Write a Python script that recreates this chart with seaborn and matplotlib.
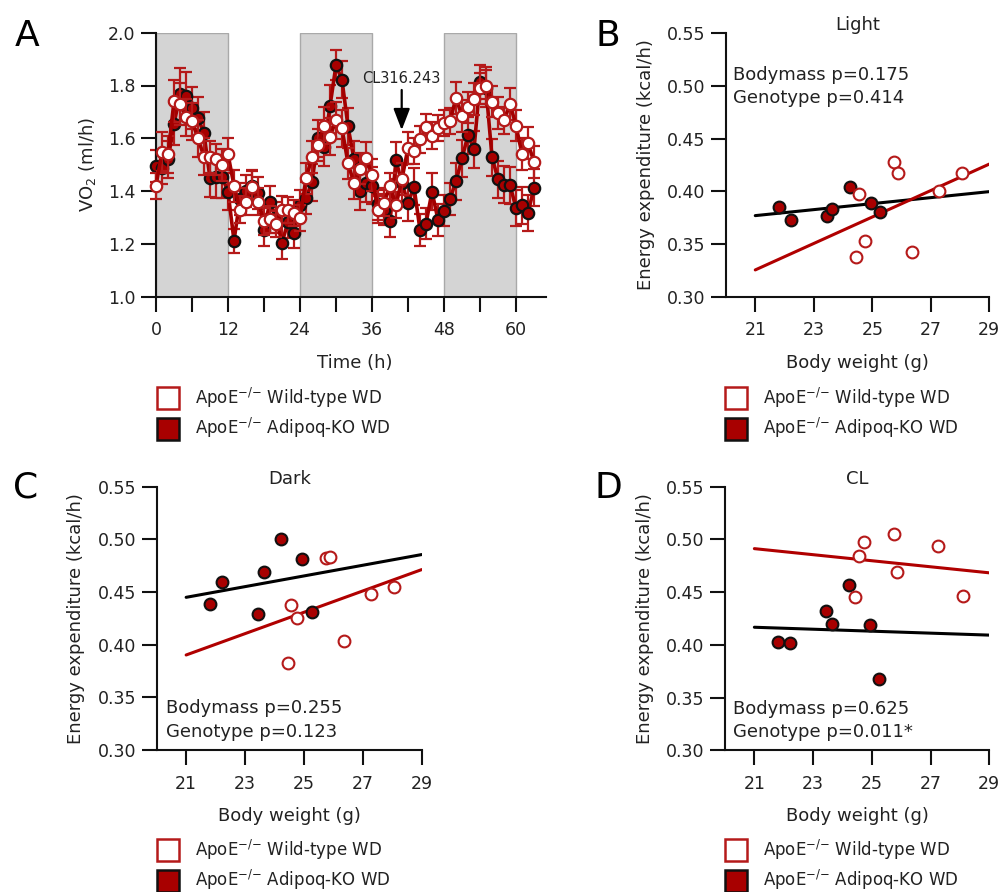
import numpy as np
import pandas as pd
import matplotlib
matplotlib.use("Agg")
import matplotlib.pyplot as plt
from matplotlib.lines import Line2D
import seaborn as sns

# ---------------- data ----------------
hours = list(range(64))

vo2_wt = [1.42, 1.55, 1.54, 1.74, 1.73, 1.68, 1.665, 1.60, 1.53, 1.53,
          1.52, 1.50, 1.54, 1.42, 1.33, 1.36, 1.415, 1.36, 1.285, 1.293,
          1.275, 1.33, 1.328, 1.316, 1.297, 1.448, 1.528, 1.575, 1.648, 1.606,
          1.669, 1.638, 1.505, 1.43, 1.485, 1.527, 1.46, 1.33, 1.355, 1.42,
          1.347, 1.446, 1.564, 1.552, 1.596, 1.642, 1.61, 1.64, 1.658, 1.665,
          1.753, 1.684, 1.717, 1.749, 1.789, 1.80, 1.739, 1.695, 1.668, 1.73,
          1.648, 1.54, 1.581, 1.511]
vo2_wt_sem = [0.05, 0.075, 0.07, 0.08, 0.08, 0.07, 0.07, 0.07, 0.07, 0.06,
              0.06, 0.06, 0.06, 0.06, 0.05, 0.05, 0.06, 0.05, 0.05, 0.05,
              0.05, 0.05, 0.05, 0.05, 0.05, 0.06, 0.06, 0.06, 0.07, 0.07,
              0.07, 0.07, 0.06, 0.06, 0.06, 0.06, 0.06, 0.05, 0.05, 0.05,
              0.05, 0.06, 0.06, 0.05, 0.05, 0.05, 0.05, 0.05, 0.05, 0.05,
              0.06, 0.06, 0.06, 0.06, 0.06, 0.07, 0.06, 0.06, 0.05, 0.06,
              0.06, 0.06, 0.06, 0.06]

vo2_ko = [1.495, 1.486, 1.52, 1.654, 1.766, 1.76, 1.714, 1.676, 1.619, 1.448,
          1.455, 1.455, 1.398, 1.212, 1.37, 1.40, 1.42, 1.394, 1.253, 1.36,
          1.30, 1.204, 1.284, 1.243, 1.346, 1.373, 1.434, 1.60, 1.566, 1.722,
          1.877, 1.821, 1.645, 1.52, 1.40, 1.43, 1.42, 1.35, 1.33, 1.285,
          1.516, 1.43, 1.355, 1.416, 1.253, 1.277, 1.398, 1.291, 1.326, 1.371,
          1.437, 1.524, 1.612, 1.558, 1.814, 1.79, 1.529, 1.445, 1.424, 1.423,
          1.336, 1.346, 1.317, 1.412]
vo2_ko_sem = [0.06, 0.06, 0.07, 0.08, 0.10, 0.09, 0.08, 0.08, 0.08, 0.07,
              0.08, 0.08, 0.07, 0.045, 0.06, 0.06, 0.06, 0.06, 0.06, 0.06,
              0.06, 0.062, 0.06, 0.06, 0.06, 0.06, 0.07, 0.07, 0.07, 0.08,
              0.057, 0.07, 0.07, 0.07, 0.07, 0.07, 0.07, 0.06, 0.06, 0.06,
              0.07, 0.07, 0.07, 0.07, 0.06, 0.06, 0.07, 0.06, 0.06, 0.06,
              0.07, 0.07, 0.07, 0.07, 0.064, 0.07, 0.07, 0.07, 0.07, 0.07,
              0.07, 0.07, 0.07, 0.07]

dark_periods = [(0, 12), (24, 36), (48, 60)]
injection_time = 40.95

# body weight (g) per mouse
bw_wt = [24.55, 24.76, 24.46, 25.75, 25.87, 26.36, 27.28, 28.07]
bw_ko = [21.82, 22.23, 23.44, 23.64, 24.23, 24.95, 25.26]

# energy expenditure (kcal/h)
ee_light_wt = [0.3975, 0.3532, 0.3380, 0.4281, 0.4177, 0.3421, 0.4006, 0.4171]
ee_light_ko = [0.3849, 0.3728, 0.3769, 0.3829, 0.4044, 0.3892, 0.3804]

ee_dark_wt = [0.4377, 0.4256, 0.3823, 0.4820, 0.4835, 0.4038, 0.4481, 0.4550]
ee_dark_ko = [0.4383, 0.4598, 0.4291, 0.4693, 0.5001, 0.4811, 0.4313]

bw_cl_wt = [24.55, 24.41, 24.75, 25.75, 25.87, 27.26, 28.10]
ee_cl_wt = [0.4846, 0.4457, 0.4973, 0.5052, 0.4689, 0.4938, 0.4467]
ee_cl_ko = [0.4030, 0.4015, 0.4322, 0.4195, 0.4568, 0.4189, 0.3677]

stats_light = ["Bodymass p=0.175", "Genotype p=0.414"]
stats_dark = ["Bodymass p=0.255", "Genotype p=0.123"]
stats_cl = ["Bodymass p=0.625", "Genotype p=0.011*"]

label_wt = r"ApoE$^{{-}/{-}}$ Wild-type WD"
label_ko = r"ApoE$^{{-}/{-}}$ Adipoq-KO WD"

# ---------------- style ----------------
sns.set_theme(style="ticks")
plt.rcParams["font.family"] = ["DejaVu Sans"]
plt.rcParams["mathtext.default"] = "regular"
plt.rcParams["axes.linewidth"] = 1.5
plt.rcParams["axes.edgecolor"] = "#111111"
for ax_name in ("xtick", "ytick"):
    plt.rcParams[f"{ax_name}.major.width"] = 1.5
    plt.rcParams[f"{ax_name}.major.size"] = 10.8
    plt.rcParams[f"{ax_name}.major.pad"] = 4
    plt.rcParams[f"{ax_name}.labelsize"] = 12.5
    plt.rcParams[f"{ax_name}.color"] = "#111111"
    plt.rcParams[f"{ax_name}.labelcolor"] = "#222222"

RED = "#A80000"
RED_EDGE = "#B51A1A"
LINE_RED = "#A30000"
TXT = "#222222"

W, H = 1003, 892
fig = plt.figure(figsize=(W / 100, H / 100), dpi=100)


def fx(px):
    return px / W


def fy(py):
    return 1 - py / H


def add_legend(x_px, y_px):
    handles = [
        Line2D([], [], marker="s", ls="none", markersize=15.5,
               markerfacecolor="white", markeredgecolor=RED_EDGE, markeredgewidth=1.8),
        Line2D([], [], marker="s", ls="none", markersize=15.5,
               markerfacecolor=RED, markeredgecolor="#111111", markeredgewidth=1.8),
    ]
    fig.legend(handles, [label_wt, label_ko], loc="upper left",
               bbox_to_anchor=(fx(x_px), fy(y_px)), bbox_transform=fig.transFigure,
               frameon=False, fontsize=12, handlelength=1.32, handletextpad=0.96,
               labelspacing=0.37, borderpad=0, borderaxespad=0,
               labelcolor=TXT)


def place_labels(ax, xlabel, ylabel, xlab_pos, ylab_x):
    ax.set_xlabel(xlabel, fontsize=13, color=TXT)
    ax.set_ylabel(ylabel, fontsize=13, color=TXT)
    ax.xaxis.set_label_coords(*xlab_pos)
    ax.xaxis.label.set_va("center")
    if ylab_x is not None:
        ax.yaxis.set_label_coords(ylab_x, 0.5)
        ax.yaxis.label.set_va("center")


# ---------------- panel A: VO2 time course ----------------
axA = fig.add_axes([fx(156), fy(296.7), fx(546) - fx(156), fy(32.7) - fy(296.7)])
for lo, hi in dark_periods:
    axA.axvspan(lo, hi, facecolor="#D4D4D4", edgecolor="#A9A9A9", lw=1.0, zorder=0)

df_a = pd.DataFrame({"t": hours * 2,
                     "vo2": vo2_ko + vo2_wt,
                     "sem": vo2_ko_sem + vo2_wt_sem,
                     "group": ["ko"] * len(hours) + ["wt"] * len(hours)})

for grp, face, edge, z in [("ko", RED, "#111111", 3), ("wt", "white", RED_EDGE, 4)]:
    sub = df_a[df_a["group"] == grp]
    axA.errorbar(sub["t"], sub["vo2"], yerr=sub["sem"], fmt="none",
                 ecolor=RED_EDGE, elinewidth=1.6, capsize=4.5, capthick=1.6,
                 zorder=z - 1, clip_on=False)
    sns.lineplot(data=sub, x="t", y="vo2", ax=axA, color=LINE_RED, lw=2.6,
                 marker="o", markersize=8.2, markerfacecolor=face,
                 markeredgecolor=edge, markeredgewidth=1.6, zorder=z,
                 clip_on=False, legend=False)

axA.set_xlim(0, 65)
axA.set_ylim(1.0, 2.0)
axA.set_xticks(range(0, 61, 6))
axA.set_xticklabels([str(v) if v % 12 == 0 else "" for v in range(0, 61, 6)])
axA.set_yticks([1.0, 1.2, 1.4, 1.6, 1.8, 2.0])
axA.set_yticklabels(["1.0", "1.2", "1.4", "1.6", "1.8", "2.0"])
axA.tick_params(axis="x", pad=7)
place_labels(axA, "Time (h)", "VO$_2$ (ml/h)", (0.51, -0.251), None)
axA.yaxis.labelpad = 7
sns.despine(ax=axA)
axA.annotate("", xy=(injection_time, 1.631), xytext=(injection_time, 1.783),
             arrowprops=dict(arrowstyle="-|>,head_length=1.3,head_width=0.5",
                             mutation_scale=10, color="black", lw=1.6,
                             shrinkA=0, shrinkB=0))
axA.text(injection_time - 0.1, 1.825, "CL316.243", ha="center", va="center",
         fontsize=10.5, color=TXT)


# ---------------- scatter panels ----------------
def scatter_panel(rect, bw_w, ee_w, bw_k, ee_k, title, stats, stats_px):
    ax = fig.add_axes(rect)
    ax.set_xlim(21, 29)
    sns.regplot(x=bw_k, y=ee_k, ax=ax, scatter=False, ci=None, truncate=False,
                line_kws=dict(color="black", lw=2.2, zorder=2))
    sns.regplot(x=bw_w, y=ee_w, ax=ax, scatter=False, ci=None, truncate=False,
                line_kws=dict(color="#B00000", lw=2.2, zorder=2))
    sns.scatterplot(x=bw_k, y=ee_k, ax=ax, s=72, color=RED, edgecolor="#111111",
                    linewidth=1.5, zorder=3, legend=False)
    sns.scatterplot(x=bw_w, y=ee_w, ax=ax, s=72, color="white", edgecolor=RED_EDGE,
                    linewidth=1.5, zorder=3, legend=False)
    ax.set_xlim(20, 29)
    ax.set_ylim(0.30, 0.55)
    ax.set_xticks([21, 23, 25, 27, 29])
    ax.set_yticks([0.30, 0.35, 0.40, 0.45, 0.50, 0.55])
    ax.set_yticklabels(["0.30", "0.35", "0.40", "0.45", "0.50", "0.55"])
    ax.tick_params(axis="x", pad=7)
    place_labels(ax, "Body weight (g)", "Energy expenditure (kcal/h)",
                 (0.5, -0.251), -0.304)
    ax.text(0.5, 1.03, title, transform=ax.transAxes, ha="center", va="center",
            fontsize=13, color=TXT)
    sns.despine(ax=ax)
    sx, sy1, sy2 = stats_px
    fig.text(fx(sx), fy(sy1), stats[0], fontsize=13, color=TXT, va="baseline", ha="left")
    fig.text(fx(sx), fy(sy2), stats[1], fontsize=13, color=TXT, va="baseline", ha="left")
    return ax


axB = scatter_panel([fx(726), fy(296.7), fx(989.3) - fx(726), fy(33.3) - fy(296.7)],
                    bw_wt, ee_light_wt, bw_ko, ee_light_ko, "Light", stats_light,
                    (733, 80, 103))
axC = scatter_panel([fx(156.7), fy(750), fx(421.7) - fx(156.7), fy(486.7) - fy(750)],
                    bw_wt, ee_dark_wt, bw_ko, ee_dark_ko, "Dark", stats_dark,
                    (166, 713, 737))
axD = scatter_panel([fx(725), fy(750.3), fx(989.3) - fx(725), fy(486.7) - fy(750.3)],
                    bw_cl_wt, ee_cl_wt, bw_ko, ee_cl_ko, "CL", stats_cl,
                    (733, 714, 737))

# legends under each panel
add_legend(157, 386)
add_legend(725, 386)
add_legend(157, 838)
add_legend(725, 838)

# panel letters
for letter, (px, py) in {"A": (27, 36), "B": (608, 36), "C": (26, 488), "D": (608, 488)}.items():
    fig.text(fx(px), fy(py), letter, fontsize=26, color="black", ha="center", va="center")

fig.savefig("out.png", dpi=100)
